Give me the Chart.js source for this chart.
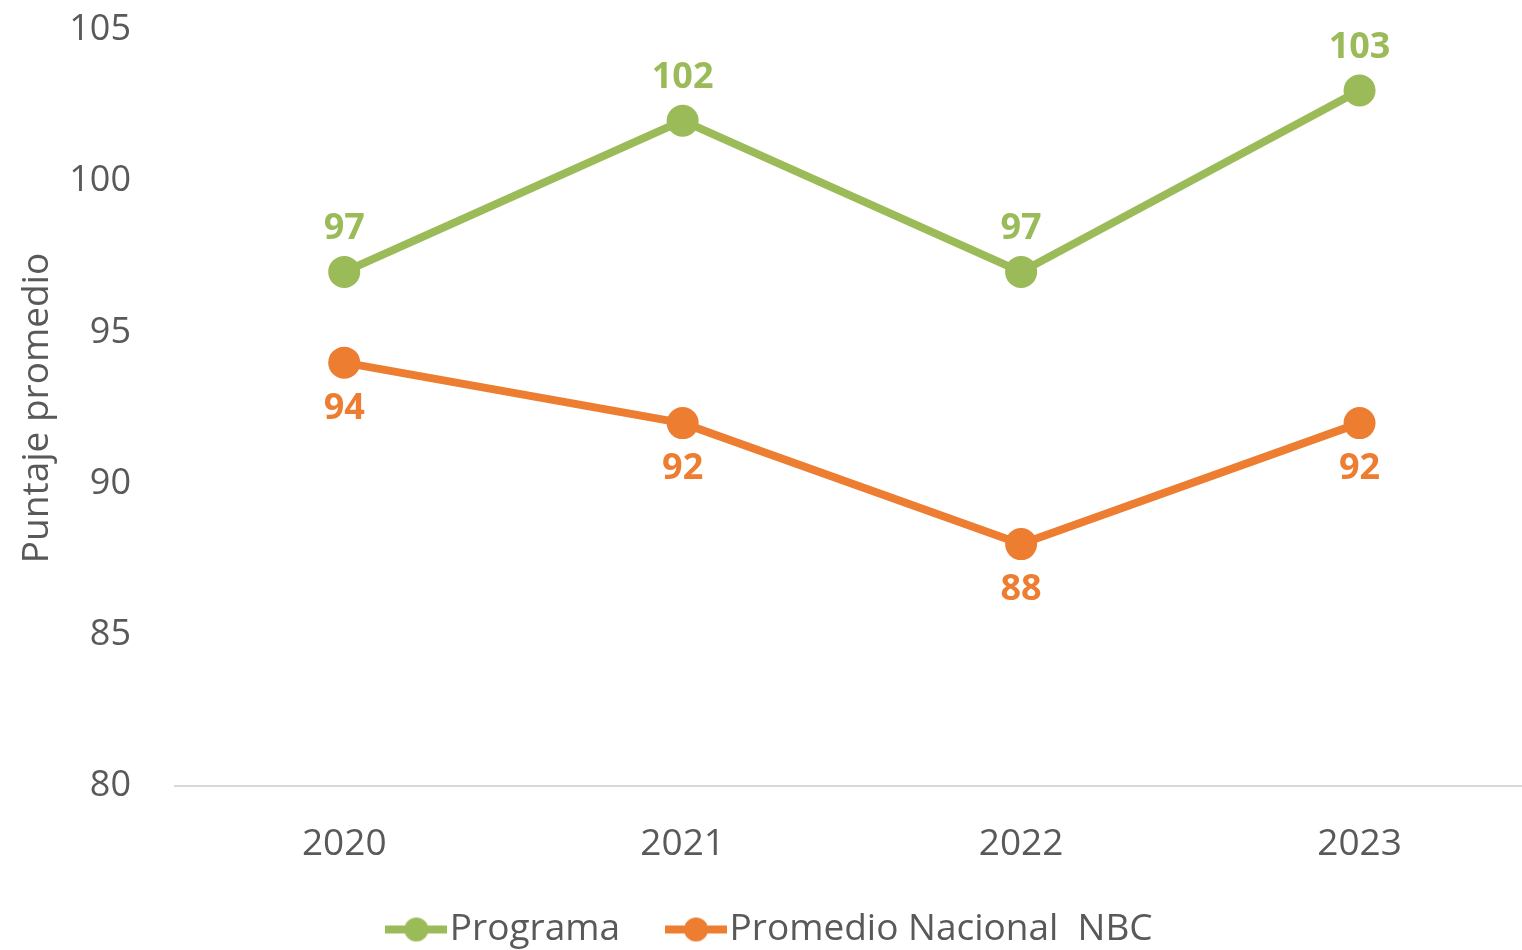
<!DOCTYPE html>
<html>
    <head>
        <meta charset="utf-8">
        <title>Puntaje promedio</title>
        <script src="https://cdn.jsdelivr.net/npm/chart.js"></script>
        <style>
            body { margin: 0; background: #fff; }
            #wrap { width: 1522px; height: 950px; }
        </style>
    </head>
    <body>
        <div id="wrap"><canvas id="myChart" width="1522" height="950"></canvas></div>
        <script>
            // datos
            const years = ['2020', '2021', '2022', '2023'];
            const programa = [97, 102, 97, 103];
            const nacional = [94, 92, 88, 92];
            const yTicks = [80, 85, 90, 95, 100, 105];

            const green = '#9BBB59';
            const orange = '#ED7D31';
            const gray = '#595959';
            const font = "'Open Sans', sans-serif";

            // icono de leyenda: linea con punto
            function legendIcon(color) {
                const c = document.createElement('canvas');
                c.width = 62; c.height = 26;
                const g = c.getContext('2d');
                g.strokeStyle = color;
                g.lineWidth = 8;
                g.beginPath(); g.moveTo(0, 13); g.lineTo(62, 13); g.stroke();
                g.fillStyle = color;
                g.beginPath(); g.arc(31, 13, 12, 0, Math.PI * 2); g.fill();
                return c;
            }

            // etiquetas de datos (arriba verde, abajo naranja)
            const valueLabels = {
                id: 'valueLabels',
                afterDatasetsDraw(chart) {
                    const ctx = chart.ctx;
                    ctx.save();
                    ctx.font = "bold 36px " + font;
                    ctx.textAlign = 'center';
                    ctx.textBaseline = 'middle';
                    chart.data.datasets.forEach((ds, i) => {
                        const meta = chart.getDatasetMeta(i);
                        meta.data.forEach((pt, j) => {
                            ctx.fillStyle = ds.borderColor;
                            const dy = i == 0 ? -43 : 46;
                            ctx.fillText(ds.data[j].y, pt.x, pt.y + dy);
                        });
                    });
                    ctx.restore();
                }
            };

            // alto fijo de la leyenda y corrida un poco
            const legendBox = {
                id: 'legendBox',
                afterInit(chart) {
                    const lg = chart.legend;
                    const fit = lg.fit;
                    lg.fit = function () { fit.call(this); this.height = 90; };
                },
                afterLayout(chart) {
                    const lg = chart.legend;
                    lg.left += 16; lg.right += 16;
                    lg.top -= 10; lg.height += 10;
                }
            };

            const toPoints = arr => arr.map((v, i) => ({ x: i, y: v }));

            const chart = new Chart(document.getElementById('myChart'), {
                type: 'line',
                data: {
                    datasets: [{
                        label: 'Programa',
                        data: toPoints(programa),
                        borderColor: green,
                        backgroundColor: green,
                        borderWidth: 8,
                        pointRadius: 12,
                        pointHoverRadius: 12,
                        legendIcon: legendIcon(green)
                    }, {
                        label: 'Promedio Nacional  NBC',
                        data: toPoints(nacional),
                        borderColor: orange,
                        backgroundColor: orange,
                        borderWidth: 8,
                        pointRadius: 12,
                        pointHoverRadius: 12,
                        legendIcon: legendIcon(orange)
                    }]
                },
                options: {
                    responsive: false,
                    animation: false,
                    layout: { autoPadding: false, padding: { top: 30, right: 0 } },
                    scales: {
                        x: {
                            type: 'linear',
                            min: -0.5,
                            max: 3.48,
                            afterBuildTicks: s => { s.ticks = s.ticks.filter(t => Number.isInteger(t.value)); },
                            afterFit: s => { s.height = 74; s.paddingLeft = 0; s.paddingRight = 0; },
                            ticks: {
                                stepSize: 1,
                                color: gray,
                                font: { family: font, size: 37 },
                                padding: 28,
                                callback: v => years[v]
                            },
                            grid: { display: false },
                            border: { display: true, color: '#D9D9D9', width: 2 }
                        },
                        y: {
                            min: 80,
                            max: 105,
                            afterBuildTicks: s => { s.ticks = yTicks.map(v => ({ value: v })); },
                            afterFit: s => { s.width = 175; s.paddingTop = 0; s.paddingBottom = 0; },
                            ticks: {
                                color: gray,
                                font: { family: font, size: 36 },
                                padding: 36
                            },
                            grid: { display: false },
                            border: { display: false },
                            title: {
                                display: true,
                                text: 'Puntaje promedio',
                                color: gray,
                                font: { family: font, size: 37 },
                                padding: { top: 15, bottom: 0 }
                            }
                        }
                    },
                    plugins: {
                        legend: {
                            position: 'bottom',
                            labels: {
                                usePointStyle: true,
                                pointStyleWidth: 30,
                                color: gray,
                                font: { family: font, size: 37 },
                                padding: 61,
                                generateLabels: c => c.data.datasets.map((ds, i) => ({
                                    text: ds.label,
                                    pointStyle: ds.legendIcon,
                                    fontColor: gray,
                                    datasetIndex: i,
                                    lineWidth: 0,
                                    strokeStyle: 'transparent',
                                    fillStyle: ds.borderColor
                                }))
                            }
                        },
                        tooltip: { enabled: false }
                    }
                },
                plugins: [valueLabels, legendBox]
            });
        </script>
    </body>
</html>
